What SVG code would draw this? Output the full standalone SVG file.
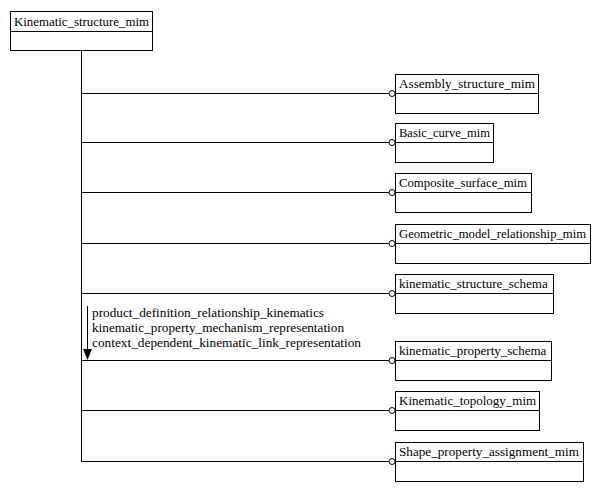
<svg xmlns="http://www.w3.org/2000/svg" width="601" height="492" viewBox="0 0 601 492">
<style>
.box{fill:#fff;stroke:#000;stroke-width:1}
.t{font-family:"Liberation Serif","Times New Roman",serif;font-size:13px;fill:#000}
.ln{stroke:#000;stroke-width:1;fill:none}
.c{fill:#fff;stroke:#000;stroke-width:1}
</style>
<rect width="601" height="492" fill="#fff"/>
<g id="connectors">
<path class="ln" d="M81.5 51V461.5"/>
<path class="ln" d="M81 93.5H389M81 142.5H389M81 192.5H389M81 243.5H389M81 293.5H389M81 360.5H389M81 410.5H389M81 461.5H389"/>
<circle class="c" cx="392" cy="93.5" r="3"/>
<circle class="c" cx="392" cy="142.5" r="3"/>
<circle class="c" cx="392" cy="192.5" r="3"/>
<circle class="c" cx="392" cy="243.5" r="3"/>
<circle class="c" cx="392" cy="293.5" r="3"/>
<circle class="c" cx="392" cy="360.5" r="3"/>
<circle class="c" cx="392" cy="410.5" r="3"/>
<circle class="c" cx="392" cy="461.5" r="3"/>
<path class="ln" d="M87.5 306V350"/>
<path d="M83 349L92 349L87.5 360Z" fill="#000"/>
<text class="t" x="92" y="317" textLength="232" lengthAdjust="spacingAndGlyphs">product_definition_relationship_kinematics</text>
<text class="t" x="92" y="332" textLength="252" lengthAdjust="spacingAndGlyphs">kinematic_property_mechanism_representation</text>
<text class="t" x="92" y="347" textLength="269" lengthAdjust="spacingAndGlyphs">context_dependent_kinematic_link_representation</text>
</g>
<g id="Kinematic_structure_mim">
<rect class="box" x="10.5" y="11.5" width="142" height="39"/>
<path class="ln" d="M10.5 31.5H152.5"/>
<text class="t" x="14" y="26" textLength="135" lengthAdjust="spacingAndGlyphs">Kinematic_structure_mim</text>
</g>
<g id="Assembly_structure_mim">
<rect class="box" x="395.5" y="74.5" width="143" height="39"/>
<path class="ln" d="M395.5 93.5H538.5"/>
<text class="t" x="399" y="88" textLength="136" lengthAdjust="spacingAndGlyphs">Assembly_structure_mim</text>
</g>
<g id="Basic_curve_mim">
<rect class="box" x="395.5" y="123.5" width="98" height="39"/>
<path class="ln" d="M395.5 142.5H493.5"/>
<text class="t" x="399" y="137" textLength="91" lengthAdjust="spacingAndGlyphs">Basic_curve_mim</text>
</g>
<g id="Composite_surface_mim">
<rect class="box" x="395.5" y="173.5" width="136" height="39"/>
<path class="ln" d="M395.5 192.5H531.5"/>
<text class="t" x="399" y="187" textLength="128" lengthAdjust="spacingAndGlyphs">Composite_surface_mim</text>
</g>
<g id="Geometric_model_relationship_mim">
<rect class="box" x="395.5" y="224.5" width="195" height="39"/>
<path class="ln" d="M395.5 243.5H590.5"/>
<text class="t" x="399" y="238" textLength="187" lengthAdjust="spacingAndGlyphs">Geometric_model_relationship_mim</text>
</g>
<g id="kinematic_structure_schema">
<rect class="box" x="395.5" y="274.5" width="158" height="39"/>
<path class="ln" d="M395.5 293.5H553.5"/>
<text class="t" x="399" y="288">kinematic_structure_schema</text>
</g>
<g id="kinematic_property_schema">
<rect class="box" x="395.5" y="341.5" width="156" height="39"/>
<path class="ln" d="M395.5 360.5H551.5"/>
<text class="t" x="399" y="355">kinematic_property_schema</text>
</g>
<g id="Kinematic_topology_mim">
<rect class="box" x="395.5" y="391.5" width="144" height="39"/>
<path class="ln" d="M395.5 410.5H539.5"/>
<text class="t" x="399" y="405">Kinematic_topology_mim</text>
</g>
<g id="Shape_property_assignment_mim">
<rect class="box" x="395.5" y="442.5" width="188" height="39"/>
<path class="ln" d="M395.5 461.5H583.5"/>
<text class="t" x="399" y="456" textLength="180" lengthAdjust="spacingAndGlyphs">Shape_property_assignment_mim</text>
</g>
</svg>
